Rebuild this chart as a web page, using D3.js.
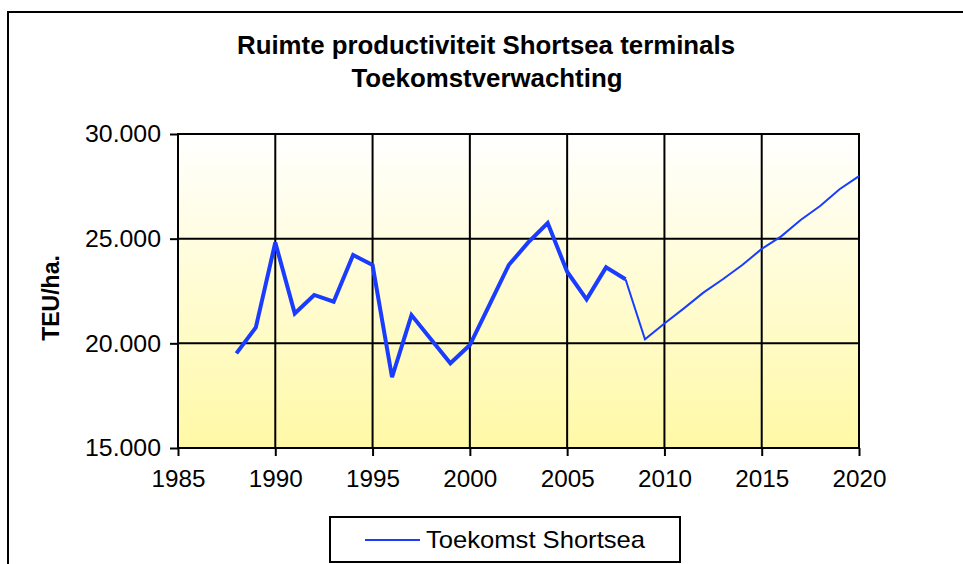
<!DOCTYPE html>
<html><head><meta charset="utf-8">
<script src="https://cdn.jsdelivr.net/npm/d3@7"></script>
<style>body{margin:0;background:#fff;}svg{display:block;font-family:"Liberation Sans",Arial,sans-serif;}</style>
</head><body><svg id="c" width="963" height="564"></svg>
<script>
const histYears = [1988,1989,1990,1991,1992,1993,1994,1995,1996,1997,1998,1999,2000,2001,2002,2003,2004,2005,2006,2007,2008];
const histValues = [19520,20760,24820,21430,22310,21990,24220,23740,18380,21350,20200,19050,19920,21830,23740,24820,25750,23420,22100,23630,23060];
const futYears = [2008,2009,2010,2011,2012,2013,2014,2015,2016,2017,2018,2019,2020];
const futValues = [23060,20190,20950,21670,22420,23060,23740,24510,25110,25890,26560,27360,27990];
const xTicks = [1985,1990,1995,2000,2005,2010,2015,2020];
const yTicks = [15000,20000,25000,30000];
const titleLines = ["Ruimte productiviteit Shortsea terminals","Toekomstverwachting"];
const yLabel = "TEU/ha.";
const legendLabel = "Toekomst Shortsea";

const svg = d3.select("#c");
const L=178,R=859,T=134,B=448;
const x = d3.scaleLinear().domain([1985,2020]).range([L,R]);
const y = d3.scaleLinear().domain([15000,30000]).range([B,T]);
const fmt = d => d3.format(",")(d).replace(/,/g,".");

// outer frame
svg.append("rect").attr("x",8).attr("y",12).attr("width",1000).attr("height",600)
  .attr("fill","none").attr("stroke","#000").attr("stroke-width",2);

const defs = svg.append("defs");
const g = defs.append("linearGradient").attr("id","bg").attr("x1",0).attr("y1",0).attr("x2",0).attr("y2",1);
g.append("stop").attr("offset","0%").attr("stop-color","#ffffff");
g.append("stop").attr("offset","100%").attr("stop-color","#fff9a6");
svg.append("rect").attr("x",L).attr("y",T).attr("width",R-L).attr("height",B-T).attr("fill","url(#bg)");

// grid
svg.append("g").selectAll("line").data(xTicks).join("line")
  .attr("x1",d=>x(d)).attr("x2",d=>x(d)).attr("y1",T).attr("y2",B)
  .attr("stroke","#000").attr("stroke-width",2);
svg.append("g").selectAll("line").data(yTicks).join("line")
  .attr("x1",L).attr("x2",R).attr("y1",d=>y(d)).attr("y2",d=>y(d))
  .attr("stroke","#000").attr("stroke-width",2);
svg.append("rect").attr("x",L).attr("y",T).attr("width",R-L).attr("height",B-T)
  .attr("fill","none").attr("stroke","#000").attr("stroke-width",2);

// axes
const ax = svg.append("g").attr("transform",`translate(0,${B})`)
  .call(d3.axisBottom(x).tickValues(xTicks).tickFormat(d3.format("d")).tickSize(8).tickPadding(14));
const ay = svg.append("g").attr("transform",`translate(${L},0)`)
  .call(d3.axisLeft(y).tickValues(yTicks).tickFormat(fmt).tickSize(8).tickPadding(9));
[ax,ay].forEach(a=>{
  a.select(".domain").remove();
  a.selectAll("line").attr("stroke","#000").attr("stroke-width",2);
  a.selectAll("text").attr("font-size","24.5px").attr("fill","#000").attr("font-family","'Liberation Sans',Arial,sans-serif");
});
ax.selectAll("text").attr("textLength",54).attr("lengthAdjust","spacingAndGlyphs");
ay.selectAll("text").attr("textLength",76).attr("lengthAdjust","spacingAndGlyphs");

// lines
const line = d3.line().x(d=>x(d[0])).y(d=>y(d[1]));
svg.append("path").datum(histYears.map((d,i)=>[d,histValues[i]])).attr("d",line)
  .attr("fill","none").attr("stroke","#1a3cff").attr("stroke-width",4).attr("stroke-linejoin","miter");
svg.append("path").datum(futYears.map((d,i)=>[d,futValues[i]])).attr("d",line)
  .attr("fill","none").attr("stroke","#1a3cff").attr("stroke-width",2);

// titles
svg.append("text").attr("x",486).attr("y",54).attr("text-anchor","middle")
  .attr("font-weight","bold").attr("font-size","25px").attr("textLength",498).attr("lengthAdjust","spacingAndGlyphs")
  .text(titleLines[0]);
svg.append("text").attr("x",487).attr("y",87).attr("text-anchor","middle")
  .attr("font-weight","bold").attr("font-size","25px").attr("textLength",271).attr("lengthAdjust","spacingAndGlyphs")
  .text(titleLines[1]);
svg.append("text").attr("transform","translate(59,298) rotate(-90)").attr("text-anchor","middle")
  .attr("font-weight","bold").attr("font-size","23px").text(yLabel);

// legend
svg.append("rect").attr("x",330).attr("y",517).attr("width",350).attr("height",45)
  .attr("fill","#fff").attr("stroke","#000").attr("stroke-width",2);
svg.append("line").attr("x1",365).attr("x2",420).attr("y1",540).attr("y2",540)
  .attr("stroke","#1a3cff").attr("stroke-width",2);
svg.append("text").attr("x",426).attr("y",548).attr("font-size","24px")
  .attr("textLength",219).attr("lengthAdjust","spacingAndGlyphs").text(legendLabel);
</script></body></html>
